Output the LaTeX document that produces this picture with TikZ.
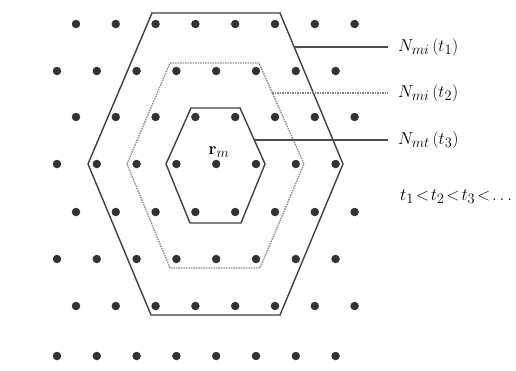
\documentclass[tikz,border=0pt]{standalone}
\usetikzlibrary{calc}
\begin{document}
\begin{tikzpicture}[x=1pt,y=-1pt,
  latdot/.style={circle,fill=black!80,inner sep=0pt,minimum size=8.5pt},
  hexsolid/.style={draw=black!75,line width=1.4pt,line join=miter},
  hexdot/.style={draw=black!45,line width=1.4pt,dash pattern=on 1.5pt off 1pt},
  leadsolid/.style={draw=black!70,line width=1.4pt},
  leaddot/.style={draw=black!50,line width=1.4pt,dash pattern=on 1.5pt off 1pt},
  lbl/.style={anchor=west,inner xsep=10pt,inner ysep=1pt,font=\fontsize{19}{22}\selectfont}]
\useasboundingbox (0,0) rectangle (516,370);
\fill[white] (0,0) rectangle (516,370);
% lattice points
\foreach \y/\s in {24/76,71/57,117/76,164/57,212/76,259/57,306/76,356/57}{
  \foreach \i in {0,...,7}{
    \node[latdot] at ({\s+39.8*\i},\y) {};
  }
}
% outer hexagon
\draw[hexsolid] (88,164) -- (152,13) -- (280,13) -- (343,164) -- (280,315) -- (151,315) -- cycle;
% middle hexagon
\draw[hexdot] (127,164) -- (170,63) -- (259,63) -- (304,164) -- (260,268) -- (170,268) -- cycle;
% inner hexagon
\draw[hexsolid] (166,164) -- (191,108) -- (240,108) -- (265,164) -- (241,223) -- (190,223) -- cycle;
% centre label
\node[font=\fontsize{19}{22}\selectfont,inner sep=0pt] (rm) at (219,152) {$\mathbf{r}_m$};
% leader start points on the hexagon edges
\coordinate (c1) at (294,47);
\coordinate (c2) at (272,93);
\coordinate (c3) at (254,140);
% labels
\node[lbl] (n1) at (388,47) {$N_{mi}\,(t_1)$};
\node[lbl] (n2) at (388,93) {$N_{mi}\,(t_2)$};
\node[lbl] (n3) at (388,140) {$N_{mt}\,(t_3)$};
\node[lbl,inner xsep=12pt] (ord) at (388,197) {$t_1\!<\!t_2\!<\!t_3\!<\!\dots$};
% leaders
\draw[leadsolid] (c1) -- (n1.west);
\draw[leaddot] (c2) -- (n2.west);
\draw[leadsolid] (c3) -- (n3.west);
\end{tikzpicture}
\end{document}
